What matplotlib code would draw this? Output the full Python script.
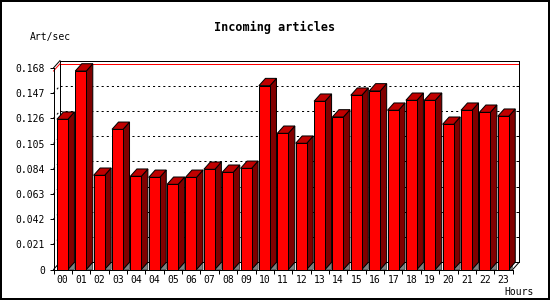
import matplotlib
matplotlib.use('Agg')
import matplotlib.pyplot as plt
from matplotlib.patches import Polygon, Rectangle

hours = ['00', '01', '02', '03', '04', '04', '05', '06', '07', '08', '09', '10',
         '11', '12', '13', '14', '15', '16', '17', '18', '19', '20', '21', '22', '23']
art_sec = [0.1252, 0.1654, 0.0785, 0.1168, 0.0777, 0.0768, 0.0710, 0.0768,
           0.0835, 0.0810, 0.0843, 0.1532, 0.1135, 0.1052, 0.1402, 0.1271,
           0.1452, 0.1488, 0.1327, 0.1410, 0.1410, 0.1210, 0.1327, 0.1310, 0.1277]
yticks = [0, 0.021, 0.042, 0.063, 0.084, 0.105, 0.126, 0.147, 0.168]
ytick_labels = ['0', '0.021', '0.042', '0.063', '0.084', '0.105', '0.126', '0.147', '0.168']

plt.rcParams['lines.scale_dashes'] = False
MONO = 'DejaVu Sans Mono'

W, H = 550, 300
PX = 72 / 100  # one pixel in points
fig = plt.figure(figsize=(5.5, 3), dpi=100)

# plot geometry in pixels (front plane) and 3D depth
L, B, AW, AH = 53.5, 30.5, 459.2, 201.6
DX, DY = 6.5, 7.3
n = len(hours)
ymax = yticks[-1]
ddx = DX / (AW / n)
ddy = DY / (AH / ymax)

# back wall
back = fig.add_axes([(L + DX) / W, (B + DY) / H, AW / W, AH / H], zorder=0)
back.set_xlim(0, n)
back.set_ylim(0, ymax)
back.set_xticks([])
back.set_yticks(yticks)
back.yaxis.tick_right()
back.tick_params(axis='y', direction='in', length=3 * PX, width=PX, labelright=False)
for s in back.spines.values():
    s.set_linewidth(PX)
for v in yticks[1:-1]:
    back.axhline(v, color='black', lw=PX, ls=(0, (1.5, 2.2)))
back.axhline(max(art_sec), color='red', lw=PX)

# front plane
ax = fig.add_axes([L / W, B / H, AW / W, AH / H], zorder=1)
ax.patch.set_visible(False)
ax.set_xlim(0, n)
ax.set_ylim(0, ymax)
ax.spines['top'].set_visible(False)
ax.spines['right'].set_visible(False)
ax.spines['left'].set_linewidth(PX)
ax.spines['bottom'].set_linewidth(PX)
ax.set_yticks(yticks)
ax.set_yticklabels(ytick_labels, fontfamily=MONO, fontsize=7)
ax.set_xticks(range(n + 1))
ax.set_xticklabels([])
ax.set_xticks([i + 0.5 for i in range(n)], minor=True)
ax.set_xticklabels(hours, minor=True, fontfamily=MONO, fontsize=7)
ax.tick_params(axis='both', which='major', direction='out', length=4 * PX, width=PX, pad=2)
ax.tick_params(axis='y', pad=3.2)
ax.tick_params(axis='x', which='minor', length=0, pad=4)

# diagonal edges of the box
for x0, y0 in [(0, 0), (0, ymax), (n, 0)]:
    ax.plot([x0, x0 + ddx], [y0, y0 + ddy], color='black', lw=PX, clip_on=False, zorder=1)
for v in yticks[1:-1]:
    ax.plot([0, ddx], [v, v + ddy], color='black', lw=PX, ls=(0, (1.5, 2.2)), clip_on=False, zorder=1)
m = max(art_sec)
ax.plot([0, ddx], [m, m + ddy], color='red', lw=PX, clip_on=False, zorder=1)

# 3D bars
off, bw = 0.185, 0.6
ax.bar([i + off for i in range(n)], art_sec, width=bw, align='edge',
       color='#ff0000', edgecolor='black', lw=PX, zorder=4)
for i, v in enumerate(art_sec):
    xl = i + off
    xr = xl + bw
    ax.add_patch(Polygon([(xr, 0), (xr + ddx, ddy), (xr + ddx, 0)], closed=True,
                         facecolor='#808080', edgecolor='black', lw=PX * 0.5, zorder=3))
    ax.add_patch(Polygon([(xr, 0), (xr + ddx, ddy), (xr + ddx, v + ddy), (xr, v)], closed=True,
                         facecolor='#800000', edgecolor='black', lw=PX, zorder=3, clip_on=False))
    ax.add_patch(Polygon([(xl, v), (xl + ddx, v + ddy), (xr + ddx, v + ddy), (xr, v)], closed=True,
                         facecolor='#c00000', edgecolor='black', lw=PX, zorder=3, clip_on=False))

# texts
fig.text(275 / W, 1 - 27 / H, 'Incoming articles', ha='center', va='center',
         fontfamily=MONO, fontweight='bold', fontsize=8.5)
fig.text(30 / W, 1 - 37 / H, 'Art/sec', ha='left', va='center', fontfamily=MONO, fontsize=7)
fig.text(504 / W, 1 - 292 / H, 'Hours', ha='left', va='center', fontfamily=MONO, fontsize=7)

# image border
fig.patches.append(Rectangle((1 / W, 1 / H), 1 - 2 / W, 1 - 2 / H, transform=fig.transFigure,
                             fill=False, edgecolor='black', lw=2 * PX))

fig.savefig('out.png', dpi=100)
